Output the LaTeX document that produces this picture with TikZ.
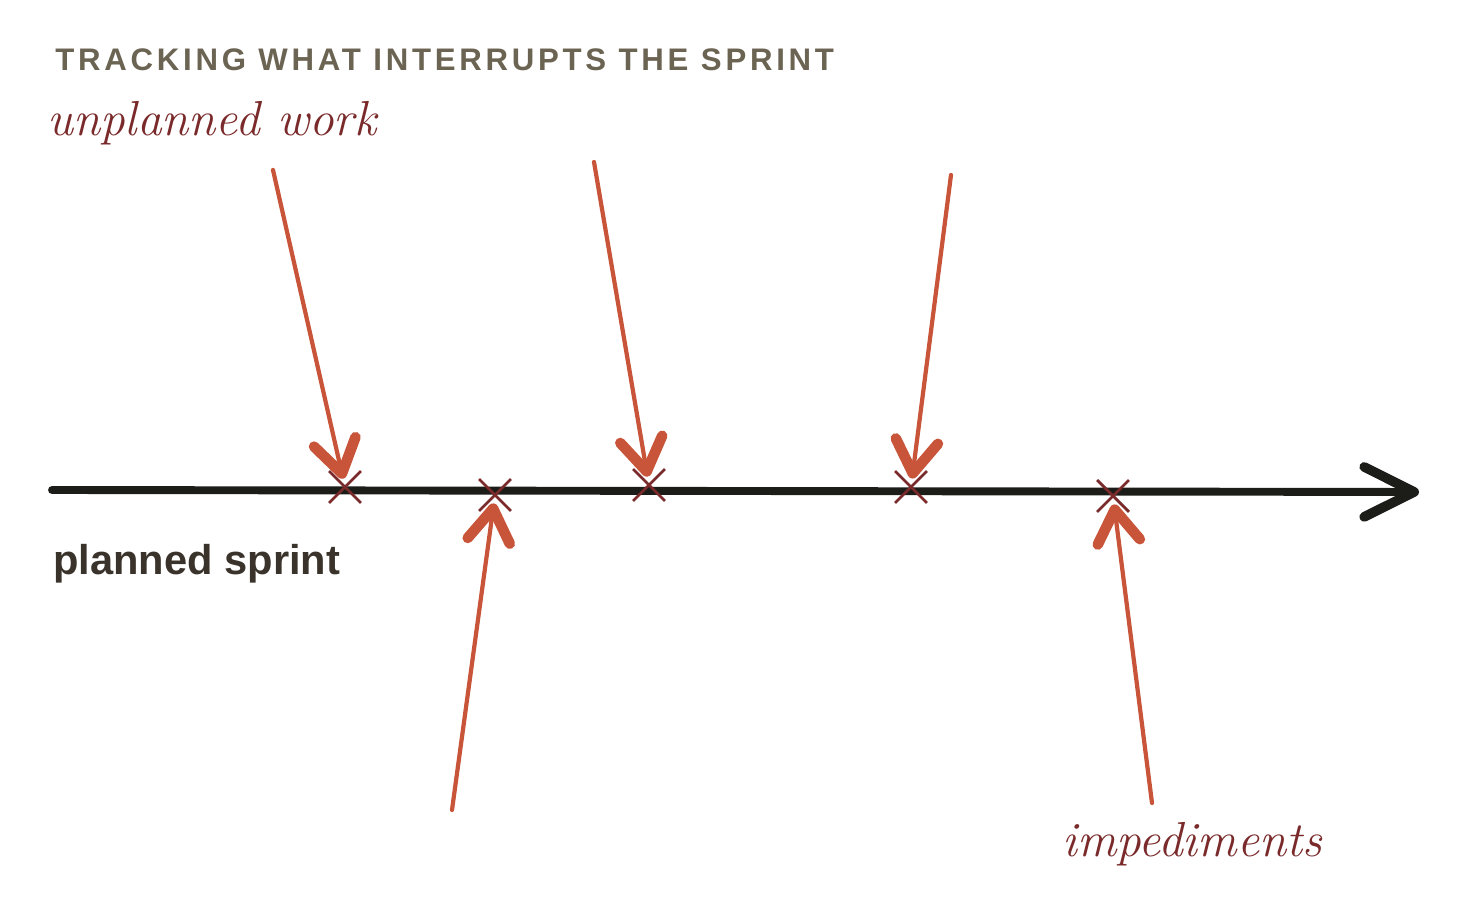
\documentclass[tikz,border=0pt]{standalone}
\usepackage{fontspec}
\newfontfamily\labelfont{Liberation Sans}
\newfontfamily\headfont[LetterSpace=12]{Liberation Sans}
\usetikzlibrary{arrows.meta,shapes.misc}
\definecolor{axisblack}{HTML}{1C1C18}
\definecolor{pushred}{HTML}{C8553A}
\definecolor{hitred}{HTML}{7A2A2A}
\definecolor{titlegray}{HTML}{6B6453}
\definecolor{textbrown}{HTML}{3A332B}
\begin{document}
\begin{tikzpicture}[
x=0.02cm, y=-0.02cm,
hit/.style={
  cross out,
  draw=hitred,
  line width=1.6pt,
  minimum size=0.58cm,
  inner sep=0pt
  },
push/.style={
  pushred,
  line width=2.4pt,
  line cap=round,
  -{Straight Barb[length=0.65cm,width=0.85cm,line width=6pt,round]},
  shorten >=0.17cm
  },
hand/.style={hitred,inner sep=0pt,anchor=base west,font=\itshape\fontsize{28}{28}\selectfont}
]
\useasboundingbox (0,0) rectangle (1472,911);
% the sprint line
\coordinate (t0) at (52,490);
\coordinate (t1) at (1419,492);
\draw[axisblack,line width=4.5pt,line cap=round,
  -{Straight Barb[length=1cm,width=1cm,line width=5.5pt,round]}] (t0) -- (t1);
% interruptions
\foreach \Name/\X/\Y in {x1/345/487,x2/495/495,x3/649/485,x4/911/487,x5/1113/496}
  \node[hit] (\Name) at (\X,\Y) {};
\coordinate (u1) at (273,170);
\coordinate (u2) at (452,810);
\coordinate (u3) at (594,162);
\coordinate (u4) at (951,175);
\coordinate (u5) at (1152,803);
\path[push]
	(u1) edge (x1.center)
	(u2) edge (x2.center)
	(u3) edge (x3.center)
	(u4) edge (x4.center)
	(u5) edge (x5.center);
% texts
\node[titlegray,inner sep=0pt,anchor=base west,font=\headfont\bfseries\fontsize{17.75}{17.75}\selectfont] (title) at (55,71) {TRACKING WHAT INTERRUPTS THE SPRINT};
\node[hand] (unplanned) at (47,136) {unplanned work};
\node[textbrown,inner sep=0pt,anchor=base west,font=\labelfont\bfseries\fontsize{23.7}{23.7}\selectfont] (planned) at (53,575) {planned sprint};
\node[hand] (impediments) at (1062,857) {impediments};
\end{tikzpicture}
\end{document}
